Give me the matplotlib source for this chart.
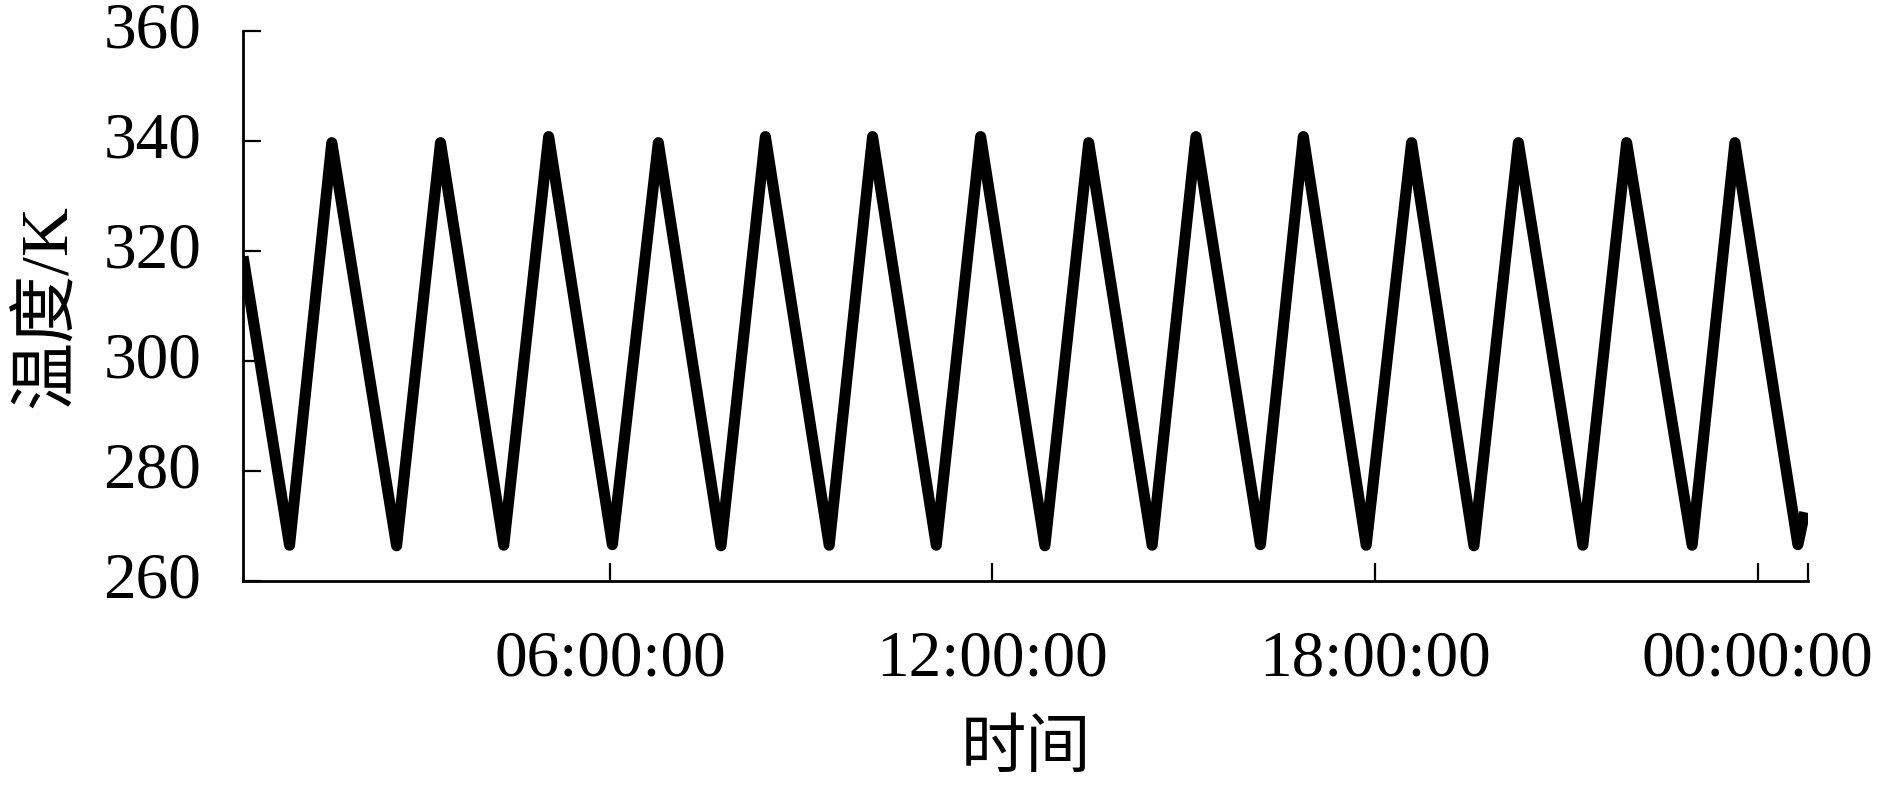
import numpy as np
import pandas as pd
import matplotlib
matplotlib.use('Agg')
import matplotlib.pyplot as plt
from matplotlib.transforms import ScaledTranslation

# temperature curve, hours from 00:00 of day one
start_hour, start_temp = 0.246, 319.0
trough_hours = [0.975, 2.654, 4.335, 6.038, 7.742, 9.439, 11.118, 12.822,
                14.504, 16.202, 17.861, 19.551, 21.259, 22.973, 24.632]
trough_temps = [266.5, 266.4, 266.5, 266.6, 266.4, 266.5, 266.5, 266.4,
                266.5, 266.6, 266.5, 266.4, 266.5, 266.5, 266.6]
peak_hours = [1.638, 3.343, 5.039, 6.759, 8.438, 10.119, 11.814, 13.509,
              15.191, 16.875, 18.573, 20.248, 21.946, 23.644]
peak_temps = [339.7, 339.7, 340.8, 339.7, 340.8, 340.8, 340.8, 339.7,
              340.8, 340.8, 339.7, 339.7, 339.7, 339.7]
end_hour, end_temp = 24.74, 272.5

tick_hours = [6, 12, 18, 24, 24.79]
tick_labels = ['06:00:00', '12:00:00', '18:00:00', '00:00:00', '']
x_range = (0.246, 24.79)
y_ticks = [260, 280, 300, 320, 340, 360]

hours = [start_hour]
temps = [start_temp]
for i in range(len(peak_hours)):
    hours += [trough_hours[i], peak_hours[i]]
    temps += [trough_temps[i], peak_temps[i]]
hours += [trough_hours[-1], end_hour]
temps += [trough_temps[-1], end_temp]

base = pd.Timestamp('2020-01-01')
def to_time(h):
    return base + pd.to_timedelta(np.asarray(h, dtype=float), unit='h')

plt.rcParams['font.family'] = ['Liberation Serif', 'Noto Sans CJK SC']
plt.rcParams['axes.unicode_minus'] = False

fig = plt.figure(figsize=(18.9, 7.87), dpi=100)
ax = fig.add_axes([0.1286, 0.2618, 0.9566 - 0.1286, 0.9606 - 0.2618])

ax.plot(to_time(hours), temps, color='black', lw=8, solid_joinstyle='round',
        solid_capstyle='butt')

ax.set_xlim(to_time(x_range[0]), to_time(x_range[1]))
ax.set_ylim(260, 360)
ax.set_xticks(to_time(tick_hours))
ax.set_xticklabels(tick_labels)
ax.set_yticks(y_ticks)

for s in ['top', 'right']:
    ax.spines[s].set_visible(False)
for s in ['left', 'bottom']:
    ax.spines[s].set_linewidth(2.0)

ax.tick_params(axis='both', direction='in', length=13, width=1.6, labelsize=47)
ax.tick_params(axis='x', pad=35)
ax.tick_params(axis='y', pad=30)

# y tick numbers sit a little above their ticks in the original
shift = ScaledTranslation(0, 0.06, fig.dpi_scale_trans)
for lab in ax.get_yticklabels():
    lab.set_transform(lab.get_transform() + shift)

ax.set_xlabel('时间', fontsize=47, labelpad=23)
ax.set_ylabel('温度/K', fontsize=49, labelpad=17)

fig.savefig('out.png', dpi=100)
